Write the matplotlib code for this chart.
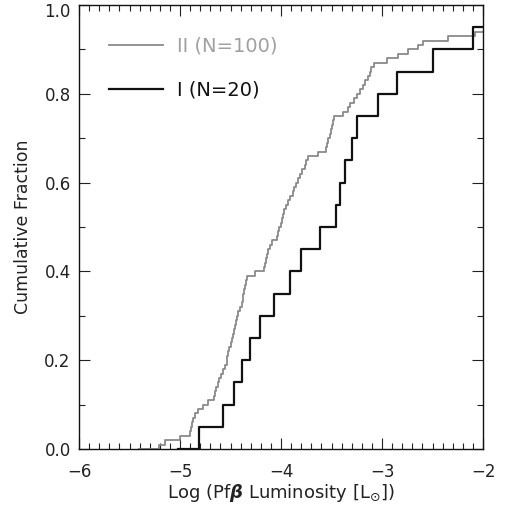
import numpy as np
import matplotlib
matplotlib.use("Agg")
import matplotlib.pyplot as plt
from matplotlib.ticker import MultipleLocator
from matplotlib.transforms import ScaledTranslation

plt.rcParams['font.family'] = ['DejaVu Sans']
plt.rcParams['mathtext.fontset'] = 'dejavusans'

# log Pf-beta luminosities (values above -2 lie outside the frame)
class_ii = [-5.205, -5.149, -5.000, -4.901, -4.891, -4.881, -4.871, -4.851, -4.819, -4.775,
            -4.720, -4.663, -4.649, -4.639, -4.624, -4.614, -4.599, -4.574, -4.554, -4.535,
            -4.530, -4.520, -4.510, -4.500, -4.490, -4.475, -4.470, -4.460, -4.446, -4.436,
            -4.426, -4.406, -4.386, -4.381, -4.376, -4.366, -4.356, -4.347, -4.340, -4.257,
            -4.168, -4.158, -4.149, -4.134, -4.124, -4.109, -4.092, -4.043, -4.030, -4.015,
            -4.000, -3.990, -3.980, -3.970, -3.950, -3.931, -3.911, -3.886, -3.871, -3.847,
            -3.832, -3.812, -3.792, -3.762, -3.748, -3.730, -3.634, -3.554, -3.545, -3.530,
            -3.515, -3.505, -3.495, -3.485, -3.480, -3.383, -3.334, -3.312, -3.282, -3.248,
            -3.218, -3.193, -3.168, -3.136, -3.119, -3.109, -3.079, -2.953, -2.839, -2.740,
            -2.641, -2.591, -2.343, -2.079, -1.950, -1.900, -1.800, -1.700, -1.500, -1.300]
class_i = [-4.815, -4.571, -4.465, -4.389, -4.307, -4.208, -4.066, -3.908, -3.805, -3.610,
           -3.459, -3.419, -3.366, -3.297, -3.244, -3.043, -2.855, -2.492, -2.102, -1.800]

series = [
    (class_ii, 'II (N=100)', '#8a8a8a', '#a0a0a0', 1.3),
    (class_i, 'I (N=20)', '#111111', '#111111', 1.6),
]

fig = plt.figure(figsize=(5.05, 5.07), dpi=100)
ax = fig.add_axes([79 / 505, 1 - 449 / 507, 404 / 505, 444 / 507])

for vals, label, col, tcol, lw in series:
    x = np.sort(np.array(vals))
    n = len(x)
    frac = np.arange(1, n + 1) / n
    xs = np.concatenate([[x[0] - 0.2], x])
    ys = np.concatenate([[0.0], frac])
    ax.step(xs, ys, where='post', color=col, lw=lw, label=label)

ax.set_xlim(-6, -2)
ax.set_ylim(0, 1.0)
ax.xaxis.set_major_locator(MultipleLocator(1))
ax.xaxis.set_minor_locator(MultipleLocator(0.1))
ax.yaxis.set_major_locator(MultipleLocator(0.2))
ax.yaxis.set_minor_locator(MultipleLocator(0.1))
ax.yaxis.set_major_formatter(matplotlib.ticker.FormatStrFormatter('%.1f'))
ax.xaxis.set_major_formatter(matplotlib.ticker.FuncFormatter(lambda v, p: '\u2212%d' % abs(v)))
ax.tick_params(which='both', direction='in', top=True, right=True, labelsize=12,
               colors='#222222')
ax.tick_params(axis='x', pad=10)
ax.tick_params(axis='y', pad=6)
ax.tick_params(which='major', length=8, width=0.8)
ax.tick_params(which='minor', length=4, width=0.8)
for s in ax.spines.values():
    s.set_linewidth(1.0)
    s.set_color('#111111')

ax.set_xlabel(r'Log (Pf$\boldsymbol{\beta}$ Luminosity [L$_{\odot}$])', fontsize=13,
              color='#222222', labelpad=1)
ax.set_ylabel('Cumulative Fraction', fontsize=12.5, color='#222222', labelpad=9)

leg = ax.legend(loc='upper left', bbox_to_anchor=(0.03, 0.968), frameon=False,
                fontsize=14, handlelength=2.8, handletextpad=0.7, labelspacing=1.3)
for txt, (_, _, _, tcol, _) in zip(leg.get_texts(), series):
    txt.set_color(tcol)

# keep the top "1.0" label inside the figure
fig.canvas.draw()
for tick in ax.yaxis.get_major_ticks():
    if abs(tick.get_loc() - 1.0) < 1e-6:
        tick.label1.set_transform(tick.label1.get_transform()
                                  + ScaledTranslation(0, -0.05, fig.dpi_scale_trans))

fig.savefig('out.png', dpi=100)
